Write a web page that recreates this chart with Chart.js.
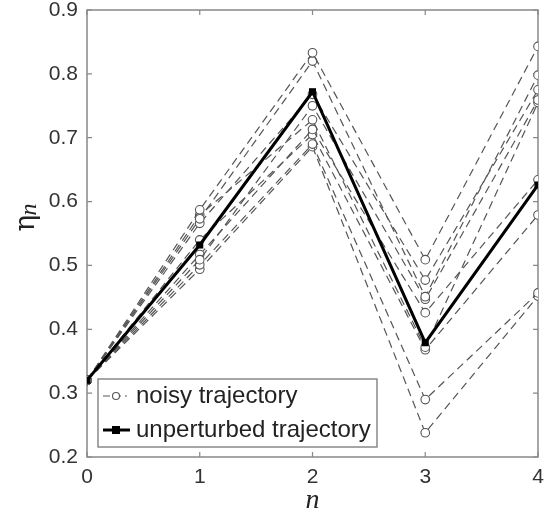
<!DOCTYPE html>
<html>
<head>
<meta charset="utf-8">
<script src="https://cdn.jsdelivr.net/npm/chart.js@4.4.1/dist/chart.umd.min.js"></script>
<style>
  html, body { margin: 0; padding: 0; background: #fff; }
  #wrap { width: 545px; height: 514px; }
</style>
</head>
<body>
<div id="wrap"><canvas id="c" width="545" height="514"></canvas></div>
<script>
// step index n
var steps = [0, 1, 2, 3, 4];
// unperturbed trajectory
var unperturbed = [0.320, 0.532, 0.772, 0.379, 0.626];
// noisy trajectories, one array per run
var noisyRuns = [
  [0.320, 0.587, 0.833, 0.509, 0.843],
  [0.320, 0.573, 0.820, 0.451, 0.798],
  [0.320, 0.566, 0.768, 0.477, 0.775],
  [0.320, 0.509, 0.750, 0.447, 0.759],
  [0.320, 0.579, 0.728, 0.372, 0.755],
  [0.320, 0.517, 0.713, 0.426, 0.634],
  [0.320, 0.540, 0.705, 0.368, 0.579],
  [0.320, 0.501, 0.690, 0.290, 0.457],
  [0.320, 0.494, 0.686, 0.238, 0.452]
];
var legendLabels = ['noisy trajectory', 'unperturbed trajectory'];

var GRAY = '#555';
var pts = function(arr){ return steps.map(function(s,i){ return {x:s, y:arr[i]}; }); };

var datasets = [{
  label: legendLabels[1],
  data: pts(unperturbed),
  borderColor: '#000', backgroundColor: '#000', borderWidth: 3,
  pointStyle: 'rect', pointRadius: 5, pointBorderWidth: 0,
  tension: 0
}];
noisyRuns.forEach(function(run){
  datasets.push({
    label: legendLabels[0],
    data: pts(run),
    borderColor: GRAY, backgroundColor: '#fff', borderWidth: 1.2,
    borderDash: [8, 5],
    pointStyle: 'circle', pointRadius: 4.3, pointBorderWidth: 1.1, pointBorderColor: GRAY,
    tension: 0
  });
});

// box around the plot with inward ticks
var framePlugin = {
  id: 'frame',
  beforeDatasetsDraw: function(chart){
    var c = chart.ctx, a = chart.chartArea, xs = chart.scales.x, ys = chart.scales.y;
    c.save();
    c.strokeStyle = '#888'; c.lineWidth = 1.5;
    c.strokeRect(a.left, a.top, a.right - a.left, a.bottom - a.top);
    c.lineWidth = 1.2;
    c.beginPath();
    ys.ticks.forEach(function(t){
      var y = ys.getPixelForValue(t.value);
      c.moveTo(a.left, y); c.lineTo(a.left + 5, y);
      c.moveTo(a.right, y); c.lineTo(a.right - 5, y);
    });
    xs.ticks.forEach(function(t){
      var x = xs.getPixelForValue(t.value);
      c.moveTo(x, a.bottom); c.lineTo(x, a.bottom - 5);
      c.moveTo(x, a.top); c.lineTo(x, a.top + 5);
    });
    c.stroke();
    c.restore();
  },
  afterDraw: function(chart){
    var c = chart.ctx, a = chart.chartArea;
    c.save();
    // axis titles
    c.fillStyle = '#222';
    c.font = 'italic 28px "Liberation Serif"';
    c.textAlign = 'center'; c.textBaseline = 'alphabetic';
    c.fillText('n', (a.left + a.right) / 2, 508);
    c.translate(34, 217);
    c.rotate(-Math.PI / 2);
    c.textAlign = 'left';
    c.font = '28px "DejaVu Serif"';
    var w1 = c.measureText('η').width;
    c.font = 'italic 24px "Liberation Serif"';
    var w2 = c.measureText('n').width;
    var x0 = -(w1 + w2) / 2;
    c.font = '28px "DejaVu Serif"';
    c.fillText('η', x0, 0);
    c.font = 'italic 24px "Liberation Serif"';
    c.fillText('n', x0 + w1 - 1, 2);
    c.restore();

    // legend box
    c.save();
    var bx = 98, by = 379, bw = 279, bh = 68;
    c.fillStyle = '#fff'; c.fillRect(bx, by, bw, bh);
    c.strokeStyle = '#777'; c.lineWidth = 1.3; c.strokeRect(bx, by, bw, bh);
    var rows = [by + 17, by + 51];
    // noisy sample
    c.strokeStyle = GRAY; c.lineWidth = 1.2; c.setLineDash([7, 4]);
    c.beginPath(); c.moveTo(103, rows[0]); c.lineTo(127, rows[0]); c.stroke();
    c.setLineDash([]);
    c.fillStyle = '#fff'; c.lineWidth = 1.1;
    c.beginPath(); c.arc(116, rows[0], 3.5, 0, Math.PI * 2); c.fill(); c.stroke();
    // unperturbed sample
    c.strokeStyle = '#000'; c.lineWidth = 3;
    c.beginPath(); c.moveTo(103, rows[1]); c.lineTo(130, rows[1]); c.stroke();
    c.fillStyle = '#000'; c.fillRect(112, rows[1] - 4, 8, 8);
    c.fillStyle = '#222';
    c.font = '24px "Liberation Sans"';
    c.textBaseline = 'middle'; c.textAlign = 'left';
    c.fillText(legendLabels[0], 136, rows[0]);
    c.fillText(legendLabels[1], 136, rows[1]);
    c.restore();
  }
};

new Chart(document.getElementById('c'), {
  type: 'line',
  data: { datasets: datasets },
  options: {
    responsive: false,
    animation: false,
    layout: { padding: { top: 10, right: 0, left: 0, bottom: 0 } },
    plugins: { legend: { display: false }, tooltip: { enabled: false } },
    scales: {
      x: {
        type: 'linear', min: 0, max: 4,
        ticks: { stepSize: 1, color: '#333', padding: 8, font: { family: 'Liberation Sans', size: 21 } },
        grid: { display: false, drawTicks: false },
        border: { display: false },
        afterFit: function(s){ s.height = 57; s.paddingRight = 7; s.paddingLeft = 0; }
      },
      y: {
        min: 0.2, max: 0.9,
        ticks: { stepSize: 0.1, color: '#333', padding: 9, font: { family: 'Liberation Sans', size: 21 },
          callback: function(v){ return v.toFixed(1); } },
        grid: { display: false, drawTicks: false },
        border: { display: false },
        afterFit: function(s){ s.width = 87; s.paddingTop = 0; s.paddingBottom = 0; }
      }
    }
  },
  plugins: [framePlugin]
});
</script>
</body>
</html>
